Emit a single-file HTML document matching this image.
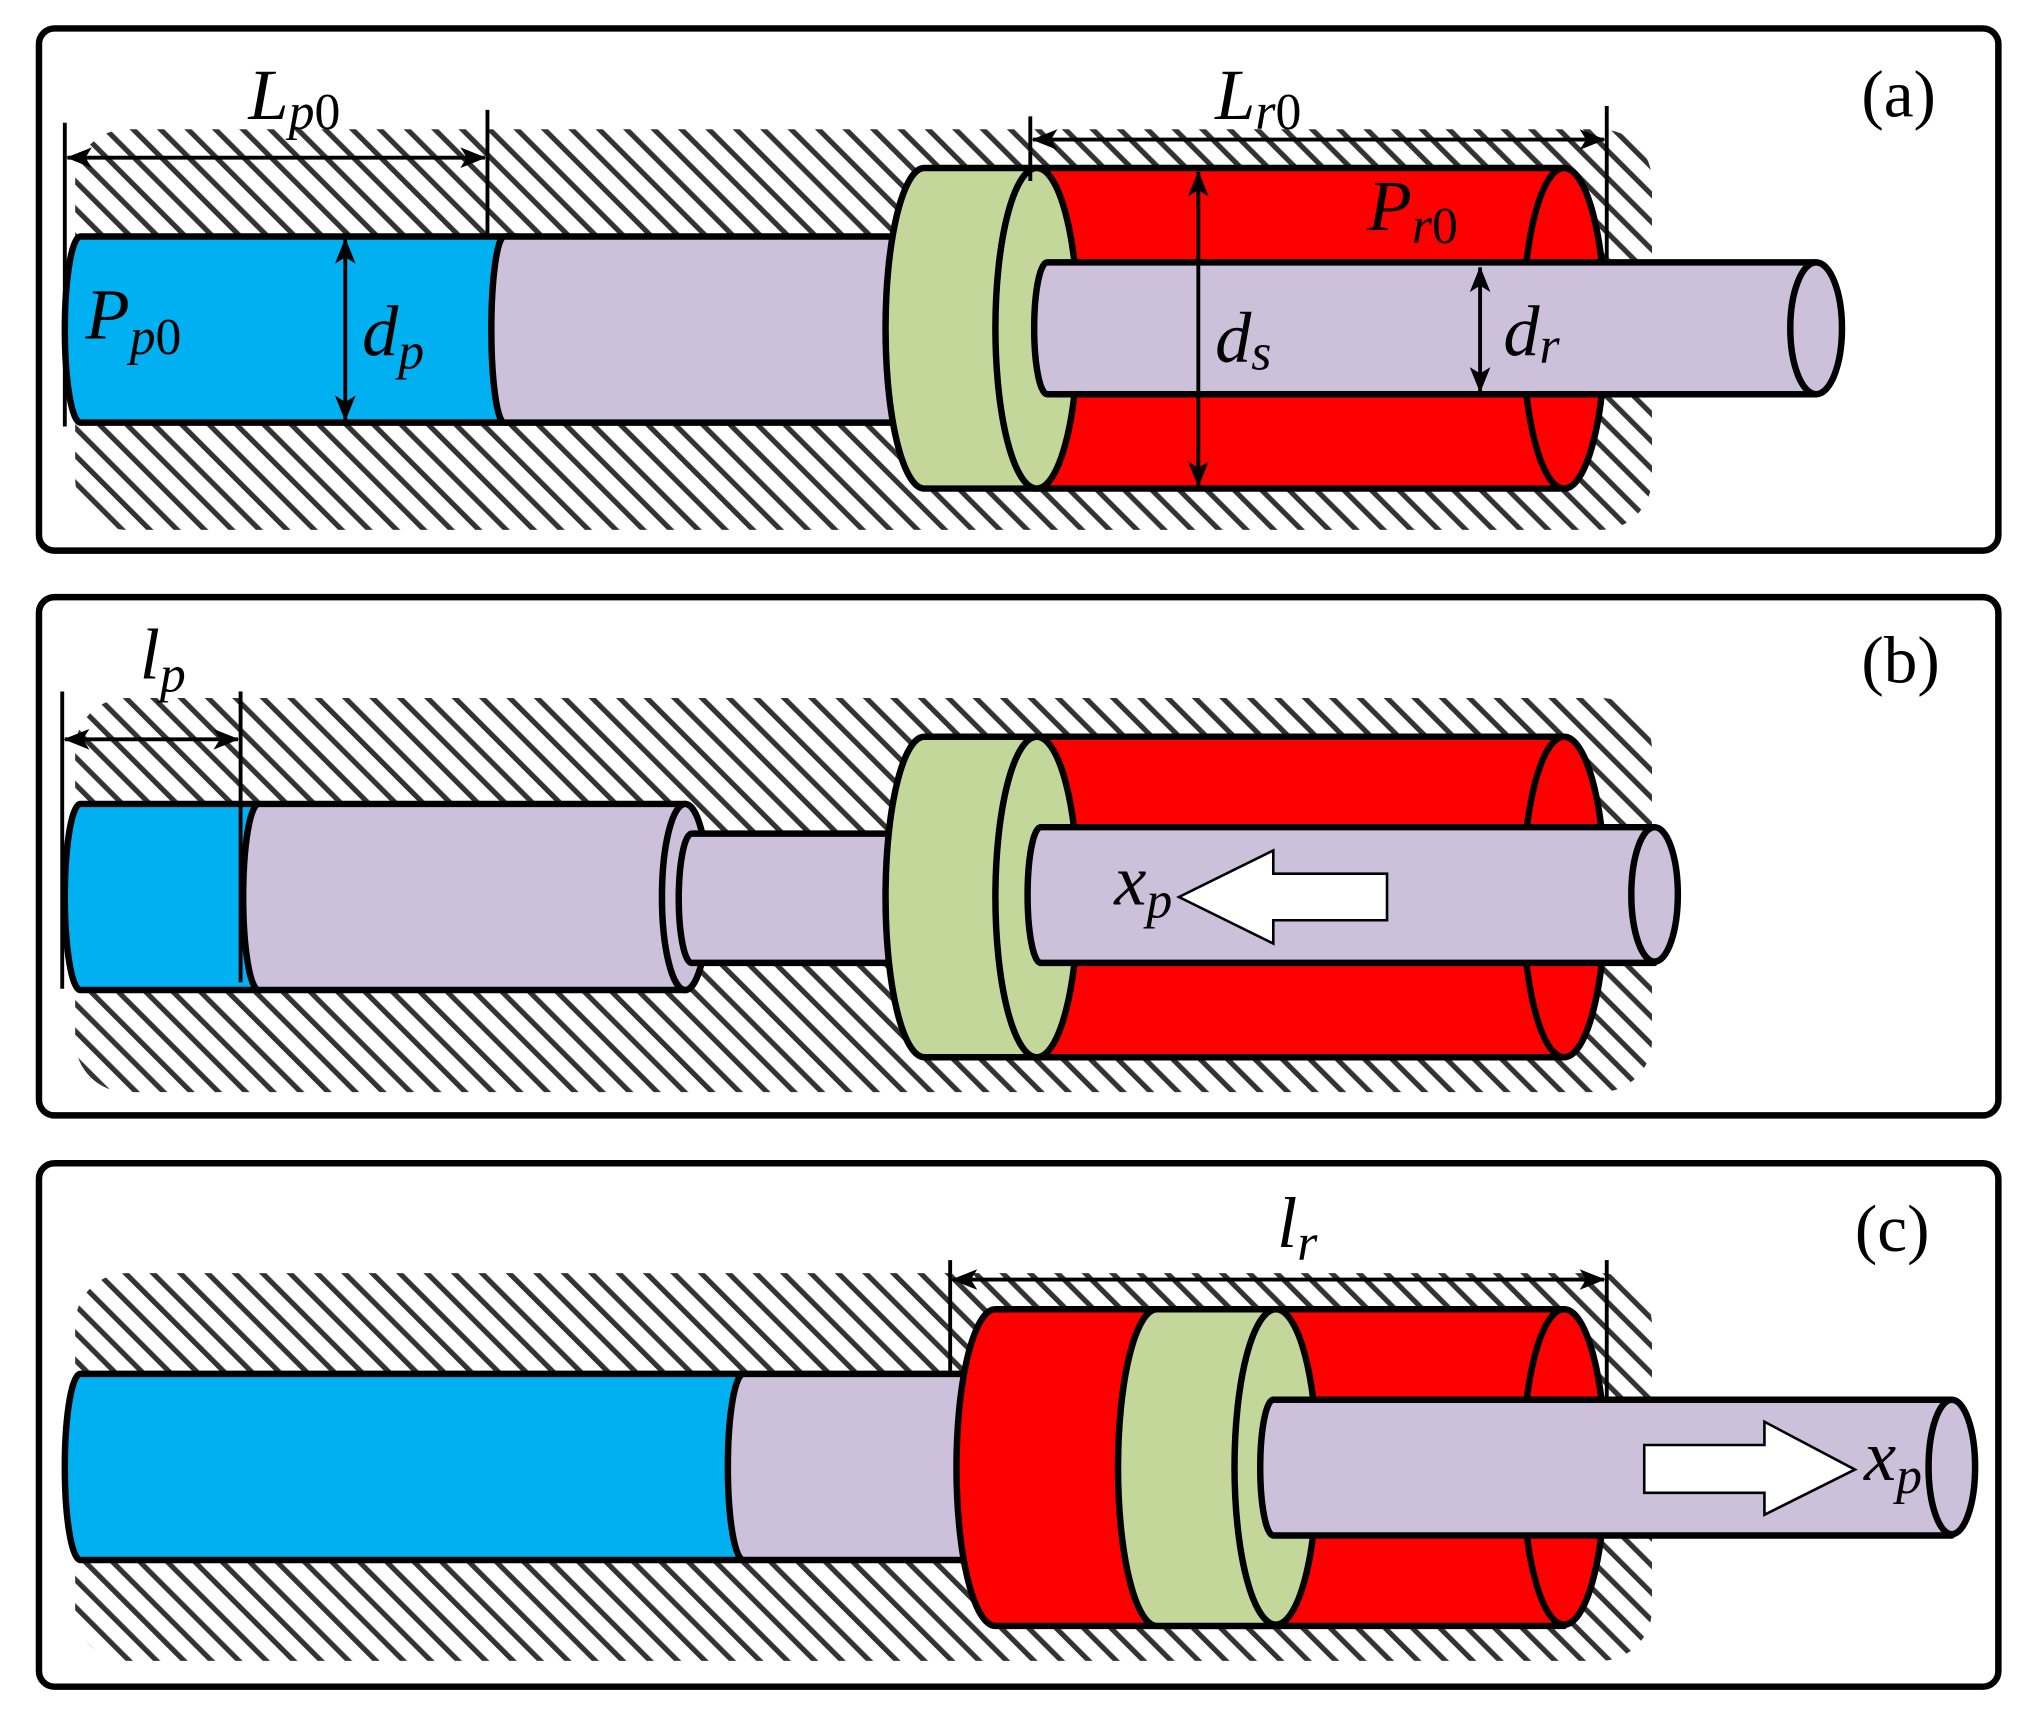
<!DOCTYPE html>
<html><head><style>
html,body{margin:0;padding:0;background:#fff}
svg{display:block}
text{font-family:"Liberation Serif",serif;fill:#000}
.it{font-style:italic}
</style></head><body>
<svg width="2027" height="1719" viewBox="0 0 1568 1330" xmlns="http://www.w3.org/2000/svg">
<defs>
<pattern id="h" width="15" height="15" patternUnits="userSpaceOnUse" patternTransform="rotate(-45)">
<rect x="0" y="0" width="4" height="15" fill="#333"/>
</pattern>
<marker id="ae" markerWidth="20" markerHeight="16" refX="19" refY="8" orient="auto" markerUnits="userSpaceOnUse"><path d="M0,0 L20,8 L0,16 L5,8 Z" fill="#000"/></marker>
<marker id="as" markerWidth="20" markerHeight="16" refX="1" refY="8" orient="auto" markerUnits="userSpaceOnUse"><path d="M20,0 L0,8 L20,16 L15,8 Z" fill="#000"/></marker>
</defs>
<g stroke="#000" stroke-width="5" fill="#fff">
<rect x="30" y="22" width="1516" height="404" rx="12"/>
<rect x="30" y="462" width="1516" height="401" rx="12"/>
<rect x="30" y="900" width="1516" height="405" rx="12"/>
</g>
<rect x="58" y="100" width="1220" height="310" rx="40" fill="url(#h)"/>
<rect x="58" y="540" width="1220" height="305" rx="40" fill="url(#h)"/>
<rect x="58" y="985" width="1220" height="300" rx="40" fill="url(#h)"/>

<g stroke="#000" stroke-width="5" stroke-linejoin="round">
<path d="M62,183 L400,183 L400,327 L62,327 A12,72 0 0 1 62,183Z" fill="#00b0f0"/>
<path d="M390,183 L700,183 L700,327 L390,327 A10,72 0 0 1 390,183Z" fill="#ccc0da"/>
<path d="M800,130 L1210,130 L1210,378 L800,378Z" fill="#f00"/>
<ellipse cx="1210" cy="254" rx="32" ry="124" fill="#f00"/>
<path d="M715,130 L800,130 L800,378 L715,378 A30,124 0 0 1 715,130Z" fill="#c4d79b"/>
<ellipse cx="802" cy="254" rx="32" ry="124" fill="#c4d79b"/>
<path d="M810,203 L1405,203 L1405,305 L810,305 A10,51 0 0 1 810,203Z" fill="#ccc0da"/>
<ellipse cx="1405" cy="254" rx="20" ry="51" fill="#ccc0da"/>
<path d="M62,622 L200,622 L200,766 L62,766 A12,72 0 0 1 62,622Z" fill="#00b0f0"/>
<path d="M200,622 L530,622 L530,766 L200,766 A12,72 0 0 1 200,622Z" fill="#ccc0da"/>
<ellipse cx="530" cy="694" rx="18" ry="72" fill="#ccc0da"/>
<path d="M535,645 L700,645 L700,745 L535,745 A10,50 0 0 1 535,645Z" fill="#ccc0da"/>
<path d="M800,570 L1210,570 L1210,818 L800,818Z" fill="#f00"/>
<ellipse cx="1210" cy="694" rx="32" ry="124" fill="#f00"/>
<path d="M715,570 L800,570 L800,818 L715,818 A30,124 0 0 1 715,570Z" fill="#c4d79b"/>
<ellipse cx="802" cy="694" rx="32" ry="124" fill="#c4d79b"/>
<path d="M805,640 L1280,640 L1280,745 L805,745 A10,52 0 0 1 805,640Z" fill="#ccc0da"/>
<ellipse cx="1280" cy="692" rx="18" ry="52" fill="#ccc0da"/>
<path d="M62,1063 L575,1063 L575,1207 L62,1207 A12,72 0 0 1 62,1063Z" fill="#00b0f0"/>
<path d="M575,1063 L890,1063 L890,1207 L575,1207 A12,72 0 0 1 575,1063Z" fill="#ccc0da"/>
<path d="M770,1013 L1210,1013 L1210,1258 L770,1258 A30,122 0 0 1 770,1013Z" fill="#f00"/>
<ellipse cx="1210" cy="1135" rx="32" ry="122" fill="#f00"/>
<path d="M895,1013 L985,1013 L985,1258 L895,1258 A30,122 0 0 1 895,1013Z" fill="#c4d79b"/>
<ellipse cx="987" cy="1135" rx="32" ry="122" fill="#c4d79b"/>
<path d="M985,1083 L1510,1083 L1510,1188 L985,1188 A10,52 0 0 1 985,1083Z" fill="#ccc0da"/>
<ellipse cx="1510" cy="1135" rx="18" ry="52" fill="#ccc0da"/>
</g>
<g stroke="#000" stroke-width="2" fill="#fff">
<polygon points="912,694 985,658 985,676 1073,676 1073,712 985,712 985,730"/>
<polygon points="1435,1137 1365,1100 1365,1118 1272,1118 1272,1155 1365,1155 1365,1172"/>
</g>
<g stroke="#000" stroke-width="3" fill="none">
<line x1="50" y1="95" x2="50" y2="330"/><line x1="377" y1="85" x2="377" y2="185"/>
<line x1="52" y1="122" x2="375" y2="122" marker-start="url(#as)" marker-end="url(#ae)"/>
<line x1="797" y1="90" x2="797" y2="140"/><line x1="1243" y1="82" x2="1243" y2="200"/>
<line x1="799" y1="108" x2="1241" y2="108" marker-start="url(#as)" marker-end="url(#ae)"/>
<line x1="267" y1="185" x2="267" y2="325" marker-start="url(#as)" marker-end="url(#ae)"/>
<line x1="927" y1="133" x2="927" y2="376" marker-start="url(#as)" marker-end="url(#ae)"/>
<line x1="1145" y1="207" x2="1145" y2="303" marker-start="url(#as)" marker-end="url(#ae)"/>
<line x1="48" y1="535" x2="48" y2="765"/><line x1="186" y1="535" x2="186" y2="760"/>
<line x1="50" y1="572" x2="184" y2="572" marker-start="url(#as)" marker-end="url(#ae)"/>
<line x1="735" y1="975" x2="735" y2="1063"/><line x1="1243" y1="975" x2="1243" y2="1085"/>
<line x1="737" y1="990" x2="1241" y2="990" marker-start="url(#as)" marker-end="url(#ae)"/>
</g>
<g font-size="56">
<text x="192" y="92" class="it">L<tspan font-size="40" dy="8">p</tspan><tspan font-size="40" font-style="normal">0</tspan></text>
<text x="940" y="92" class="it">L<tspan font-size="40" dy="8">r</tspan><tspan font-size="40" font-style="normal">0</tspan></text>
<text x="1058" y="178" class="it">P<tspan font-size="40" dy="10">r</tspan><tspan font-size="40" font-style="normal">0</tspan></text>
<text x="66" y="262" class="it">P<tspan font-size="40" dy="12">p</tspan><tspan font-size="40" font-style="normal">0</tspan></text>
<text x="280" y="275" class="it">d<tspan font-size="40" dy="10">p</tspan></text>
<text x="940" y="280" class="it">d<tspan font-size="40" dy="6">s</tspan></text>
<text x="1163" y="275" class="it">d<tspan font-size="40" dy="6">r</tspan></text>
<text x="1440" y="90" font-size="52">(a)</text>
<text x="108" y="525" class="it">l<tspan font-size="40" dy="10">p</tspan></text>
<text x="862" y="700" class="it">x<tspan font-size="40" dy="10">p</tspan></text>
<text x="1440" y="528" font-size="52">(b)</text>
<text x="988" y="965" class="it">l<tspan font-size="40" dy="10">r</tspan></text>
<text x="1442" y="1145" class="it">x<tspan font-size="40" dy="10">p</tspan></text>
<text x="1435" y="968" font-size="52">(c)</text>
</g>
</svg>
</body></html>
